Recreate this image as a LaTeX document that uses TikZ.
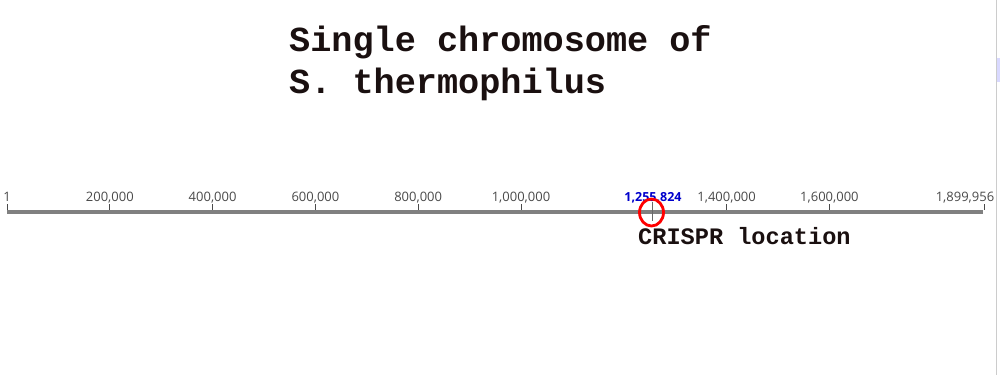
\documentclass[tikz,border=0pt]{standalone}
\usepackage{fontspec}
\usetikzlibrary{shapes.geometric}
\newfontfamily\labfont{Open Sans}
\newfontfamily\monofont{Liberation Mono}
\definecolor{axisgray}{HTML}{808080}
\definecolor{labgray}{HTML}{4A4A4A}
\definecolor{crisprblue}{HTML}{0000CC}
\definecolor{titleink}{HTML}{1A1010}
\begin{document}
\begin{tikzpicture}[x=1pt,y=-1pt,
  ticklab/.style={font=\labfont\fontsize{13}{15}\selectfont, text=labgray, anchor=base, inner sep=0pt},
  tickmark/.style={draw=labgray, line width=1pt},
  titletext/.style={font=\monofont\bfseries\fontsize{35.2}{42}\selectfont, text=titleink, anchor=base west, inner sep=0pt},
  notetext/.style={font=\monofont\bfseries\fontsize{23.6}{26}\selectfont, text=titleink, anchor=base west, inner sep=0pt}]
\useasboundingbox (0,0) rectangle (1000,375);
\fill[white] (0,0) rectangle (1000,375);
% scrollbar edge
\draw[gray!40, line width=0.8pt] (996,0) -- (996,375);
\fill[blue!15] (996.5,58) rectangle (1000,82);
% title
\node[titletext] (t1) at (289,51) {Single chromosome of};
\node[titletext] (t2) at (289,93) {S. thermophilus};
% axis
\coordinate (a0) at (7,212);
\coordinate (a1) at (983,212);
\draw[axisgray, line width=4pt] (a0) -- (a1);
% ticks
\foreach \x/\lab/\lx [count=\i] in {7/1/7, 109.8/{200,000}/109.8, 212.6/{400,000}/212.6, 315.4/{600,000}/315.4, 418.2/{800,000}/418.2, 521/{1,000,000}/521, 726.6/{1,400,000}/726.6, 829.4/{1,600,000}/829.4, 984/{1,899,956}/965} {
  \coordinate (tk\i) at (\x,204);
  \coordinate (tb\i) at (\x,210);
  \draw[tickmark] (tk\i) -- (tb\i);
  \node[ticklab] (lab\i) at (\lx,201) {\lab};
}
% CRISPR marker
\coordinate (c0) at (652.5,202);
\coordinate (c1) at (652.5,221);
\draw[axisgray!80!black, line width=1pt] (c0) -- (c1);
\node[font=\labfont\bfseries\fontsize{12.5}{14}\selectfont, text=crisprblue, anchor=base, inner sep=0pt] (crl) at (653,201) {1,255,824};
\node[draw=red, line width=2.8pt, ellipse, minimum width=24pt, minimum height=27pt, inner sep=0pt] (circ) at (651.5,212.5) {};
\node[notetext] (note) at (638,244) {CRISPR location};
\end{tikzpicture}
\end{document}
